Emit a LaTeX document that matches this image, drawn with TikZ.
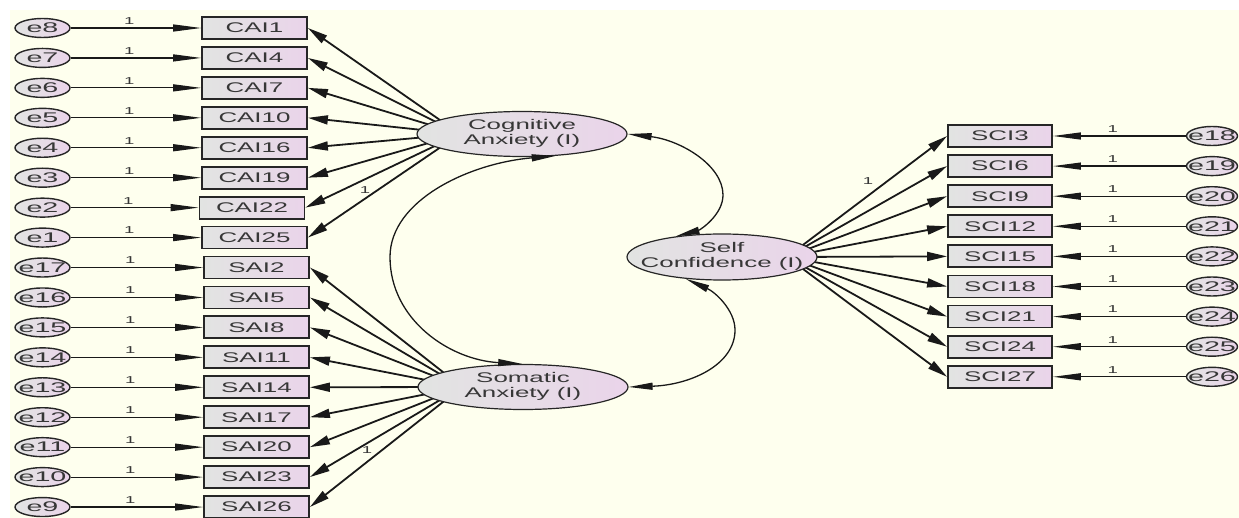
\documentclass[tikz,border=0pt]{standalone}
\usepackage{fontspec}
\newfontfamily\amos[FakeStretch=1.85]{Liberation Sans}
\newfontfamily\amoserr[FakeStretch=2.05]{Liberation Sans}
\usetikzlibrary{arrows.meta,shapes.geometric}
\pgfdeclarelayer{back}
\pgfdeclarelayer{lines}
\pgfsetlayers{back,lines,main}
\definecolor{bgc}{RGB}{254,255,238}
\definecolor{lgray}{RGB}{226,228,226}
\definecolor{lpink}{RGB}{234,212,234}
\definecolor{txt}{RGB}{55,55,55}
\newcommand\zw[1]{\makebox[0pt]{#1}}
\newcommand\twol[2]{\makebox[0pt]{\begin{tabular}{@{}c@{}}#1\\#2\end{tabular}}}
\tikzset{
 obs/.style={draw=black!85, line width=1.8pt, left color=lgray, right color=lpink,
   minimum width=105pt, minimum height=22pt, inner sep=0pt,
   font=\amos\fontsize{14}{14}\selectfont, text=txt},
 lat/.style={ellipse, draw=black!85, line width=1.2pt, left color=lgray, right color=lpink,
   minimum width=210pt, minimum height=45pt, inner sep=0pt,
   font=\amos\fontsize{14}{14}\selectfont, text=txt},
 err/.style={ellipse, draw=black!85, line width=1.4pt, left color=lgray, right color=lpink,
   minimum width=55pt, minimum height=19pt, inner sep=0pt,
   font=\amoserr\fontsize{14}{14}\selectfont, text=txt},
 one/.style={font=\amos\fontsize{10}{10}\selectfont, text=txt, inner sep=0pt},
 harr/.style={line width=1.2pt, draw=black!90, -{Triangle[length=28pt,width=7pt]}},
 darr/.style={line width=1.8pt, draw=black!90, -{Triangle[length=20pt,width=9pt]}},
 cov/.style={line width=1.3pt, draw=black!90, {Triangle[length=24pt,width=7pt]}-{Triangle[length=24pt,width=7pt]}},
}
\begin{document}
\begin{tikzpicture}[x=1pt,y=-1pt]
\useasboundingbox (0,0) rectangle (1239,518);
\begin{pgfonlayer}{back}
\fill[white] (0,0) rectangle (1239,518);
\fill[bgc] (10,10) rectangle (1239,518);
\end{pgfonlayer}

% latent variables
\node[lat] (cog) at (522,134) {\twol{Cognitive}{Anxiety (I)}};
\node[lat] (som) at (523,387) {\twol{Somatic}{Anxiety (I)}};
\node[lat, minimum width=190pt, minimum height=46pt] (sc) at (722,257) {\twol{Self}{Confidence (I)}};
\coordinate (cogf) at (460,134);
\coordinate (somf) at (462,387);
\coordinate (scf) at (787,257);

% left side
\foreach \i/\e/\b/\bx in {0/e8/CAI1/254.5, 1/e7/CAI4/254.5, 2/e6/CAI7/254.5, 3/e5/CAI10/254.5,
  4/e4/CAI16/254.5, 5/e3/CAI19/254.5, 6/e2/CAI22/252, 7/e1/CAI25/254.5,
  8/e17/SAI2/256.5, 9/e16/SAI5/256.5, 10/e15/SAI8/256.5, 11/e14/SAI11/256.5,
  12/e13/SAI14/256.5, 13/e12/SAI17/256.5, 14/e11/SAI20/256.5, 15/e10/SAI23/256.5, 16/e9/SAI26/256.5}{
  \pgfmathsetmacro\yy{28+29.94*\i}
  \node[err] (eL\i) at (42.5,\yy) {\zw{\e}};
  \node[obs] (bL\i) at (\bx,\yy) {\b};
  \draw[harr] (eL\i) -- node[one, pos=0.45, above=3pt] (oL\i) {1} (bL\i.west);
}
\begin{pgfonlayer}{lines}
\foreach \i in {0,...,7}{ \draw[darr] (cogf) -- (bL\i.east); }
\foreach \i in {8,...,16}{ \draw[darr] (somf) -- (bL\i.east); }
\end{pgfonlayer}
\node[one] (lc) at (365,190) {1};
\node[one] (ls) at (367,450) {1};

% right side
\foreach \j/\e/\b in {0/e18/SCI3, 1/e19/SCI6, 2/e20/SCI9, 3/e21/SCI12, 4/e22/SCI15,
  5/e23/SCI18, 6/e24/SCI21, 7/e25/SCI24, 8/e26/SCI27}{
  \pgfmathsetmacro\yy{136+30.1*\j}
  \node[err, minimum width=51pt] (eR\j) at (1212,\yy) {\zw{\e}};
  \node[obs, minimum width=104pt] (bR\j) at (1000,\yy) {\b};
  \draw[harr] (eR\j) -- node[one, pos=0.55, above=3pt] (oR\j) {1} (bR\j.east);
  \begin{pgfonlayer}{lines}
  \draw[darr] (scf) -- (bR\j.west);
  \end{pgfonlayer}
}
\node[one] (lr) at (868,181) {1};

% covariances
\draw[cov] (cog.east) .. controls (680,140) and (723,165) .. (723,195)
   .. controls (723,215) and (700,230) .. (sc.156);
\draw[cov] (cog.-33) .. controls (470,163) and (390,200) .. (390,257)
   .. controls (390,320) and (450,360) .. (som.92);
\draw[cov] (sc.211) .. controls (715,292) and (735,310) .. (735,330)
   .. controls (735,365) and (690,385) .. (som.east);
\end{tikzpicture}
\end{document}
